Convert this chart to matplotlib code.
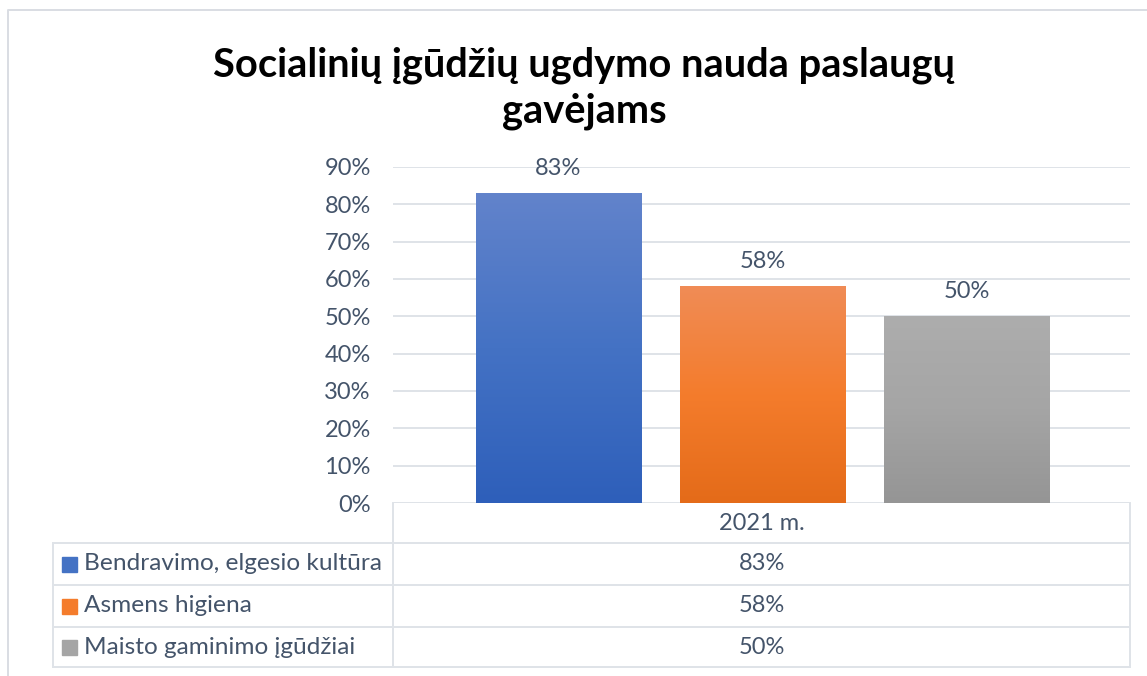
import numpy as np
import matplotlib
matplotlib.use('Agg')
import matplotlib.pyplot as plt
from matplotlib.colors import LinearSegmentedColormap
from matplotlib.lines import Line2D
from matplotlib.patches import Rectangle

title_lines = ['Socialinių įgūdžių ugdymo nauda paslaugų', 'gavėjams']
category = '2021 m.'
series = ['Bendravimo, elgesio kultūra', 'Asmens higiena', 'Maisto gaminimo įgūdžiai']
values = [0.83, 0.58, 0.50]
yticks = [0, 0.1, 0.2, 0.3, 0.4, 0.5, 0.6, 0.7, 0.8, 0.9]

# gradient colours (top, middle, bottom)
grads = [['#6283cb', '#4472c4', '#2e5fba'],
         ['#f08c56', '#f47c2c', '#e46b19'],
         ['#adadad', '#a5a5a5', '#959595']]

W, H = 1147, 676
txt_col = '#44546a'
line_col = '#dfe3e8'
plt.rcParams['font.family'] = ['Lato', 'DejaVu Sans']

fig = plt.figure(figsize=(W / 100, H / 100), dpi=100)


def fx(x):
    return x / W


def fy(y):
    return 1 - y / H


def hline(y, x0, x1):
    fig.add_artist(Line2D([fx(x0), fx(x1)], [fy(y), fy(y)], color=line_col, lw=1.4,
                          transform=fig.transFigure))


def vline(x, y0, y1):
    fig.add_artist(Line2D([fx(x), fx(x)], [fy(y0), fy(y1)], color=line_col, lw=1.4,
                          transform=fig.transFigure))


# outer chart border (left and top only visible)
fig.add_artist(Line2D([fx(8), fx(8), fx(W + 5)], [fy(H + 5), fy(10), fy(10)],
                      color='#d9dde3', lw=1.4, transform=fig.transFigure))

for line, yb in zip(title_lines, [77, 122]):
    fig.text(fx(584), fy(yb), line, ha='center', va='baseline', fontsize=28.7,
             fontweight='bold', color='black')

ax = fig.add_axes([fx(393), fy(503), (1130 - 393) / W, (503 - 167) / H])
x = np.arange(len(values))
width = 0.81
bars = ax.bar(x, values, width=width, color='none', zorder=3)
for b, g in zip(bars, grads):
    cmap = LinearSegmentedColormap.from_list('g', g[::-1])
    grad = np.linspace(0, 1, 256).reshape(-1, 1)
    ax.imshow(grad, cmap=cmap, origin='lower', aspect='auto', zorder=3,
              extent=[b.get_x(), b.get_x() + b.get_width(), 0, b.get_height()])
    ax.annotate('{:.0%}'.format(b.get_height()), (b.get_x() + b.get_width() / 2, b.get_height()),
                xytext=(0, 13), textcoords='offset points', ha='center', va='baseline',
                fontsize=17, color=txt_col)

ax.set_xlim(-0.811, 2.802)
ax.set_ylim(0, 0.9)
ax.set_yticks(yticks)
ax.set_yticklabels(['{:.0%}'.format(t) for t in yticks], fontsize=17, color=txt_col)
ax.tick_params(axis='y', length=0, pad=16)
ax.set_xticks([])
ax.grid(axis='y', color=line_col, lw=1.4, zorder=0)
ax.set_axisbelow(True)
for s in ax.spines.values():
    s.set_visible(False)
ax.patch.set_alpha(0)

# data table
rows_y = [543, 585, 627, 667]
for y in rows_y:
    hline(y, 53, 1130)
vline(53, 543, 667)
vline(393, 503, 667)
vline(1130, 503, 667)
fig.text(fx(762), fy(523), category, ha='center', va='center', fontsize=17, color=txt_col)
for i, (name, v) in enumerate(zip(series, values)):
    yc = (rows_y[i] + rows_y[i + 1]) / 2
    fig.add_artist(Rectangle((fx(62), fy(yc + 7.5)), 15 / W, 15 / H, color=grads[i][1],
                             transform=fig.transFigure))
    fig.text(fx(84), fy(yc), name, ha='left', va='center', fontsize=17.6, color=txt_col)
    fig.text(fx(762), fy(yc), '{:.0%}'.format(v), ha='center', va='center', fontsize=17,
             color=txt_col)

fig.savefig('out.png', dpi=100)
